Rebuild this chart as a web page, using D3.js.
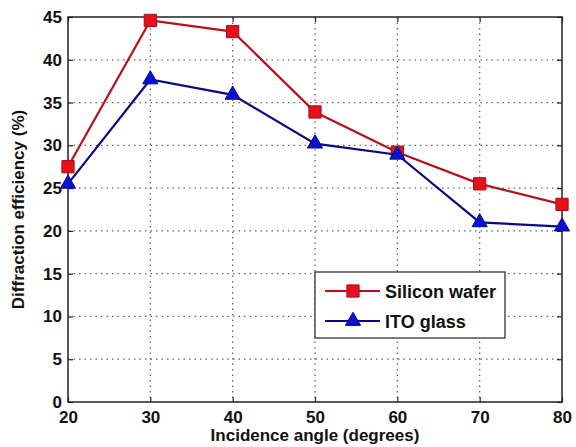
<!DOCTYPE html>
<html>
<head>
<meta charset="utf-8">
<script src="https://cdn.jsdelivr.net/npm/d3@7"></script>
<style>
  body { margin: 0; background: #fff; }
  svg text { font-family: "Liberation Sans", Arial, sans-serif; font-weight: bold; fill: #111; }
</style>
</head>
<body>
<svg id="chart" width="576" height="447"></svg>
<script>
const angles = [20, 30, 40, 50, 60, 70, 80];
const silicon = [27.5, 44.6, 43.3, 33.9, 29.2, 25.5, 23.1];
const ito = [25.5, 37.7, 35.9, 30.2, 28.9, 21.0, 20.5];
const xTicks = [20, 30, 40, 50, 60, 70, 80];
const yTicks = [0, 5, 10, 15, 20, 25, 30, 35, 40, 45];

const svg = d3.select("#chart");
const margin = { left: 68, top: 17, right: 14, bottom: 45 };
const width = 576 - margin.left - margin.right;
const height = 447 - margin.top - margin.bottom;

const g = svg.append("g").attr("transform", `translate(${margin.left},${margin.top})`);

const x = d3.scaleLinear().domain([20, 80]).range([0, width]);
const y = d3.scaleLinear().domain([0, 45]).range([height, 0]);

// dotted grid
g.selectAll(".vgrid")
  .data(xTicks.slice(1, -1))
  .enter()
  .append("line")
  .attr("x1", (d) => x(d)).attr("x2", (d) => x(d))
  .attr("y1", 0).attr("y2", height)
  .attr("stroke", "#666").attr("stroke-width", 1.3)
  .attr("stroke-dasharray", "1.5,4");
g.selectAll(".hgrid")
  .data(yTicks.slice(1, -1))
  .enter()
  .append("line")
  .attr("x1", 0).attr("x2", width)
  .attr("y1", (d) => y(d)).attr("y2", (d) => y(d))
  .attr("stroke", "#666").attr("stroke-width", 1.3)
  .attr("stroke-dasharray", "1.5,4");

// axes (inner ticks on all sides)
const axisStyle = (sel) => {
  sel.select(".domain").remove();
  sel.selectAll(".tick line").attr("stroke", "#222").attr("stroke-width", 1.2);
  sel.selectAll(".tick text").attr("font-size", 17);
};
g.append("g").attr("transform", `translate(0,${height})`)
  .call(d3.axisBottom(x).tickValues(xTicks).tickSizeInner(-5).tickSizeOuter(0).tickPadding(9))
  .call(axisStyle);
g.append("g")
  .call(d3.axisLeft(y).tickValues(yTicks).tickSizeInner(-5).tickSizeOuter(0).tickPadding(6))
  .call(axisStyle);
g.append("g")
  .call(d3.axisTop(x).tickValues(xTicks).tickSizeInner(-5).tickSizeOuter(0).tickFormat(""))
  .call(axisStyle);
g.append("g").attr("transform", `translate(${width},0)`)
  .call(d3.axisRight(y).tickValues(yTicks).tickSizeInner(-5).tickSizeOuter(0).tickFormat(""))
  .call(axisStyle);

g.append("rect")
  .attr("width", width).attr("height", height)
  .attr("fill", "none").attr("stroke", "#222").attr("stroke-width", 1.5);

// series
const series = [
  { name: "Silicon wafer", values: silicon, line: "#b3121a", fill: "#e8101a", stroke: "#a01018", shape: d3.symbolSquare, size: 150 },
  { name: "ITO glass", values: ito, line: "#0a0a80", fill: "#0a10d0", stroke: "#0a0a90", shape: d3.symbolTriangle, size: 100 }
];

const line = d3.line().x((d) => x(d[0])).y((d) => y(d[1]));

series.forEach((s) => {
  const pts = angles.map((a, i) => [a, s.values[i]]);
  g.append("path")
    .datum(pts)
    .attr("d", line)
    .attr("fill", "none")
    .attr("stroke", s.line)
    .attr("stroke-width", 2.2);
  g.selectAll(null)
    .data(pts)
    .enter()
    .append("path")
    .attr("d", d3.symbol().type(s.shape).size(s.size))
    .attr("transform", (d) => `translate(${x(d[0])},${y(d[1])})`)
    .attr("fill", s.fill)
    .attr("stroke", s.stroke)
    .attr("stroke-width", 1);
});

// legend
const lg = svg.append("g").attr("transform", "translate(315,272)");
lg.append("rect")
  .attr("width", 190).attr("height", 66)
  .attr("fill", "#fff").attr("stroke", "#222").attr("stroke-width", 1.2);
series.forEach((s, i) => {
  const row = lg.append("g").attr("transform", `translate(0,${19 + i * 30})`);
  row.append("line")
    .attr("x1", 10).attr("x2", 65)
    .attr("stroke", s.line).attr("stroke-width", 2.2);
  row.append("path")
    .attr("d", d3.symbol().type(s.shape).size(s.size))
    .attr("transform", "translate(38,0)")
    .attr("fill", s.fill).attr("stroke", s.stroke);
  row.append("text")
    .attr("x", 70).attr("y", 6.5)
    .attr("font-size", 18)
    .text(s.name);
});

// axis titles
svg.append("text")
  .attr("x", margin.left + width / 2)
  .attr("y", 441)
  .attr("text-anchor", "middle")
  .attr("font-size", 17)
  .text("Incidence angle (degrees)");
svg.append("text")
  .attr("transform", `translate(24,${margin.top + height / 2}) rotate(-90)`)
  .attr("text-anchor", "middle")
  .attr("font-size", 17)
  .text("Diffraction efficiency (%)");
</script>
</body>
</html>
